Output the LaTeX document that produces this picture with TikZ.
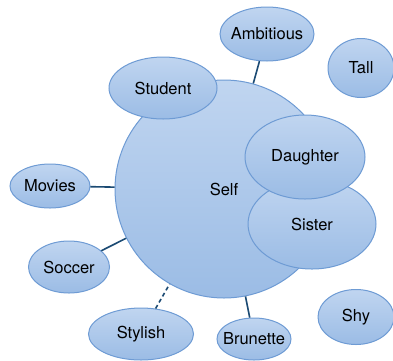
\documentclass[tikz,border=0pt]{standalone}
\usepackage{fontspec}
\setmainfont{TeX Gyre Heros}
\usetikzlibrary{shapes.geometric}
\definecolor{bubbletop}{HTML}{C0D5F0}
\definecolor{bubblebot}{HTML}{9BBCE5}
\definecolor{bubbleedge}{HTML}{6E9BD4}
\definecolor{linkcol}{HTML}{1B4A73}
\begin{document}
\begin{tikzpicture}[x=1pt, y=-1pt,
   bubble/.style={ellipse, draw=bubbleedge, line width=1pt, top color=bubbletop,
                  bottom color=bubblebot, inner sep=-12pt, font=\fontsize{16.5}{18}\selectfont},
   selfbubble/.style={bubble, circle, minimum size=218pt},
   link/.style={draw=linkcol, line width=1.6pt},
   dashlink/.style={link, dash pattern=on 4pt off 3pt}]

\useasboundingbox (0,0) rectangle (393,360);

\node[selfbubble] (self) at (224,189) {Self};
\node[bubble, minimum width=108pt, minimum height=62pt] (student) at (163,88) {Student};
\node[bubble, minimum width=94pt, minimum height=54pt] (ambitious) at (267,34) {Ambitious};
\node[bubble, minimum width=66pt, minimum height=59pt] (tall) at (361,68) {Tall};
\node[bubble, minimum width=128pt, minimum height=90pt] (sister) at (312,224) {Sister};
\node[bubble, minimum width=120pt, minimum height=84pt] (daughter) at (305,157) {Daughter};
\node[bubble, minimum width=80pt, minimum height=44pt] (movies) at (50,186) {Movies};
\node[bubble, minimum width=81pt, minimum height=52pt] (soccer) at (69,267) {Soccer};
\node[bubble, minimum width=105pt, minimum height=52pt] (stylish) at (141,334) {Stylish};
\node[bubble, minimum width=74pt, minimum height=42pt] (brunette) at (254,339) {Brunette};
\node[bubble, minimum width=76pt, minimum height=55pt] (shy) at (356,317) {Shy};

\draw[link] (ambitious) -- (self);
\draw[link] (movies) -- (self);
\draw[link] (soccer) -- (self);
\draw[dashlink] (stylish) -- (self);
\draw[link] (brunette) -- (self);

\end{tikzpicture}
\end{document}
